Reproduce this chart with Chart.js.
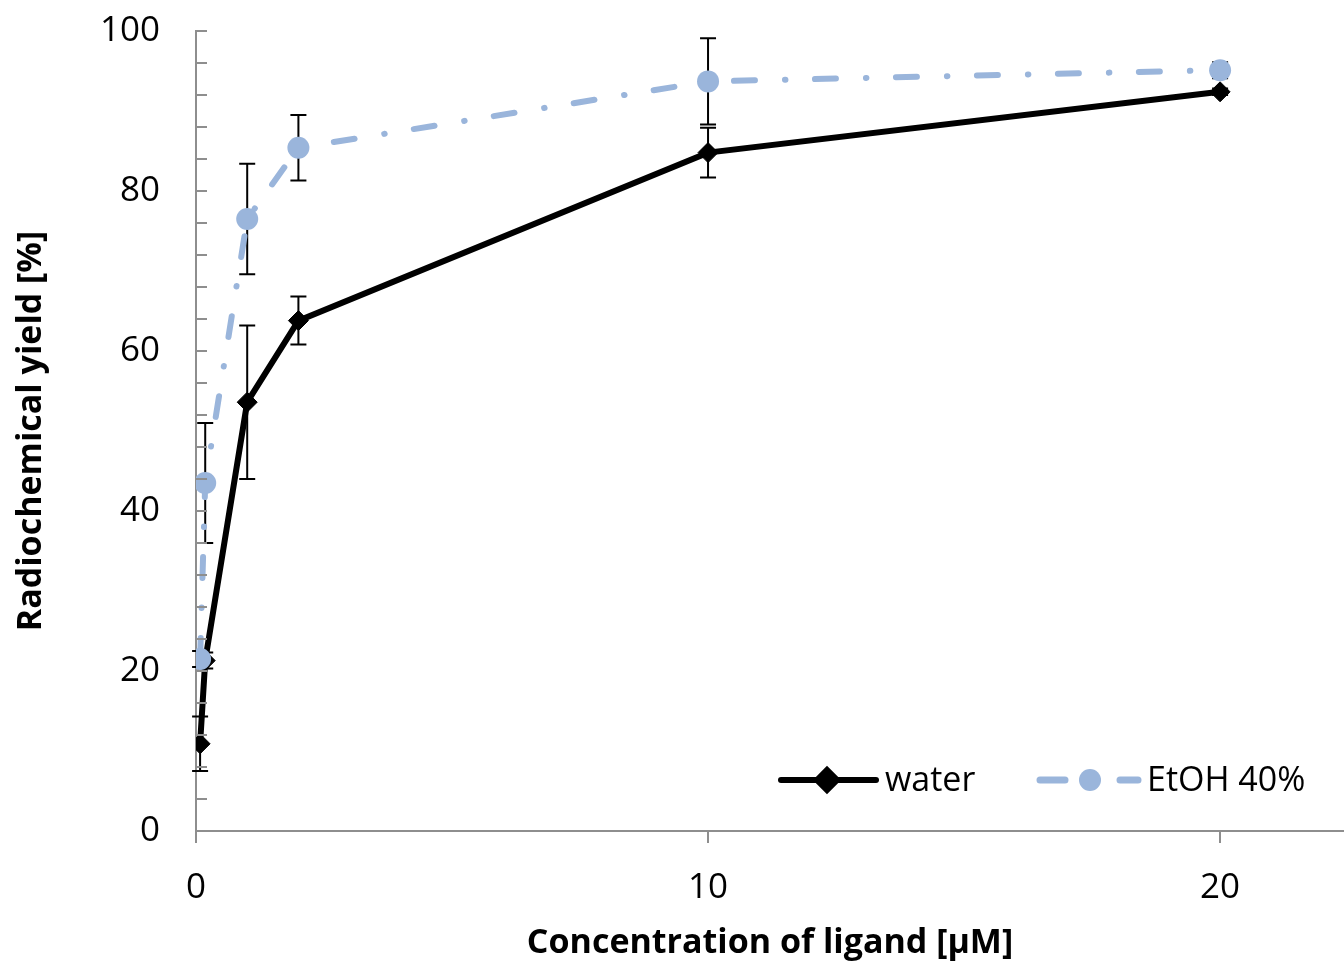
<!DOCTYPE html>
<html>
<head>
<meta charset="utf-8">
<script src="https://cdn.jsdelivr.net/npm/chart.js@4.4.1/dist/chart.umd.min.js"></script>
<style>
    html, body { margin: 0; padding: 0; background: #fff; }
    #wrap { width: 1344px; height: 966px; }
</style>
</head>
<body>
<div id="wrap"><canvas id="yieldChart" width="1344" height="966"></canvas></div>
<script>
// Ligand concentration [µM]
const concentrations = [0.08, 0.18, 1, 2, 10, 20];

// Radiochemical yield [%] and error (±)
const waterYield = [10.9, 21.3, 53.6, 63.8, 84.8, 92.4];
const waterErr = [3.4, 1.0, 9.6, 3.0, 3.1, 0.4];
const ethanolYield = [21.5, 43.5, 76.5, 85.4, 93.7, 95.1];
const ethanolErr = [1.0, 7.5, 6.9, 4.1, 5.4, 1.0];

const seriesLabels = ['water', 'EtOH 40%'];
const xTitle = 'Concentration of ligand [µM]';
const yTitle = 'Radiochemical yield [%]';

const BLUE = '#9ab5db';
const AXIS_GREY = '#8e8e8e';
const FONT = "'Open Sans', 'Liberation Sans', sans-serif";
const BLUE_DASH = [21, 30, 0.5, 29.5];

function toPoints(xs, ys) {
    return xs.map((x, i) => ({ x: x, y: ys[i] }));
}

// Draws the vertical error bars behind the markers
const errorBarsPlugin = {
    id: 'errorBars',
    beforeDatasetsDraw(chart) {
        const { ctx, scales } = chart;
        ctx.save();
        ctx.strokeStyle = '#000';
        ctx.lineWidth = 2;
        chart.data.datasets.forEach((ds) => {
            if (!ds.errors) return;
            ds.data.forEach((p, i) => {
                const err = ds.errors[i];
                if (!err) return;
                const px = scales.x.getPixelForValue(p.x);
                const top = scales.y.getPixelForValue(p.y + err);
                const bottom = scales.y.getPixelForValue(p.y - err);
                ctx.beginPath();
                ctx.moveTo(px, top);
                ctx.lineTo(px, bottom);
                ctx.moveTo(px - 8, top);
                ctx.lineTo(px + 8, top);
                ctx.moveTo(px - 8, bottom);
                ctx.lineTo(px + 8, bottom);
                ctx.stroke();
            });
        });
        ctx.restore();
    }
};

// Tick marks on the y axis point inwards
const innerTicksPlugin = {
    id: 'innerTicks',
    afterDraw(chart) {
        const { ctx, scales } = chart;
        const yScale = scales.y;
        ctx.save();
        ctx.strokeStyle = AXIS_GREY;
        ctx.lineWidth = 2;
        yScale.ticks.forEach((t) => {
            const py = Math.round(yScale.getPixelForValue(t.value));
            ctx.beginPath();
            ctx.moveTo(yScale.right, py);
            ctx.lineTo(yScale.right + 11, py);
            ctx.stroke();
        });
        ctx.restore();
    }
};

// Legend inside the plot, bottom right, line + marker symbols
const insideLegendPlugin = {
    id: 'insideLegend',
    afterDraw(chart) {
        const { ctx } = chart;
        const ds = chart.data.datasets;
        const y = 780;
        ctx.save();
        ctx.font = '34px ' + FONT;
        ctx.fillStyle = '#000';
        ctx.textBaseline = 'middle';
        ctx.lineCap = 'round';

        // water
        ctx.strokeStyle = '#000';
        ctx.lineWidth = 6;
        ctx.beginPath();
        ctx.moveTo(781, y);
        ctx.lineTo(876, y);
        ctx.stroke();
        Chart.helpers.drawPoint(ctx, { pointStyle: 'rectRot', radius: 10, borderWidth: 1 }, 827, y);
        ctx.fillText(ds[0].label, 885, y + 1);

        // EtOH 40%
        ctx.strokeStyle = BLUE;
        ctx.lineWidth = 7;
        ctx.beginPath();
        ctx.moveTo(1040, y);
        ctx.lineTo(1065, y);
        ctx.moveTo(1120, y);
        ctx.lineTo(1138, y);
        ctx.stroke();
        ctx.fillStyle = BLUE;
        ctx.beginPath();
        ctx.arc(1090, y, 11, 0, Math.PI * 2);
        ctx.fill();
        ctx.fillStyle = '#000';
        ctx.fillText(ds[1].label, 1147, y + 1);
        ctx.restore();
    }
};

const ctx = document.getElementById('yieldChart').getContext('2d');
new Chart(ctx, {
    type: 'line',
    data: {
        datasets: [
            {
                label: seriesLabels[0],
                data: toPoints(concentrations, waterYield),
                errors: waterErr,
                borderColor: '#000',
                backgroundColor: '#000',
                borderWidth: 6,
                pointStyle: 'rectRot',
                pointRadius: 10,
                pointBorderWidth: 1,
                order: 1
            },
            {
                label: seriesLabels[1],
                data: toPoints(concentrations, ethanolYield),
                errors: ethanolErr,
                borderColor: BLUE,
                backgroundColor: BLUE,
                borderWidth: 6,
                borderDash: BLUE_DASH,
                borderCapStyle: 'round',
                pointStyle: 'circle',
                pointRadius: 11,
                pointBorderWidth: 0,
                order: 0
            }
        ]
    },
    options: {
        responsive: false,
        animation: false,
        devicePixelRatio: 1,
        layout: {
            autoPadding: false,
            padding: { top: 31, right: 0, left: 0, bottom: 0 }
        },
        plugins: {
            legend: { display: false },
            tooltip: { enabled: false }
        },
        scales: {
            x: {
                type: 'linear',
                min: 0,
                max: 22.42,
                afterFit: (s) => { s.height = 135; },
                ticks: {
                    stepSize: 10,
                    includeBounds: false,
                    color: '#000',
                    font: { family: FONT, size: 35 },
                    padding: 24
                },
                grid: {
                    drawOnChartArea: false,
                    drawTicks: true,
                    tickLength: 12,
                    color: AXIS_GREY,
                    lineWidth: 2
                },
                border: { color: AXIS_GREY, width: 2 },
                title: {
                    display: true,
                    text: xTitle,
                    color: '#000',
                    font: { family: FONT, size: 34, weight: 'bold' },
                    padding: { top: 0, bottom: 2 }
                }
            },
            y: {
                min: 0,
                max: 100,
                afterFit: (s) => {
                    s.width = 196;
                    s.paddingTop = 0;
                    s.paddingBottom = 0;
                },
                ticks: {
                    stepSize: 4,
                    autoSkip: false,
                    color: '#000',
                    font: { family: FONT, size: 35 },
                    padding: 36,
                    callback: (v) => (v % 20 === 0 ? v : '')
                },
                grid: {
                    drawOnChartArea: false,
                    drawTicks: false
                },
                border: { color: AXIS_GREY, width: 2 },
                title: {
                    display: true,
                    text: yTitle,
                    color: '#000',
                    font: { family: FONT, size: 34, weight: 'bold' },
                    padding: { top: 11, bottom: 0 }
                }
            }
        }
    },
    plugins: [errorBarsPlugin, innerTicksPlugin, insideLegendPlugin]
});
</script>
</body>
</html>
